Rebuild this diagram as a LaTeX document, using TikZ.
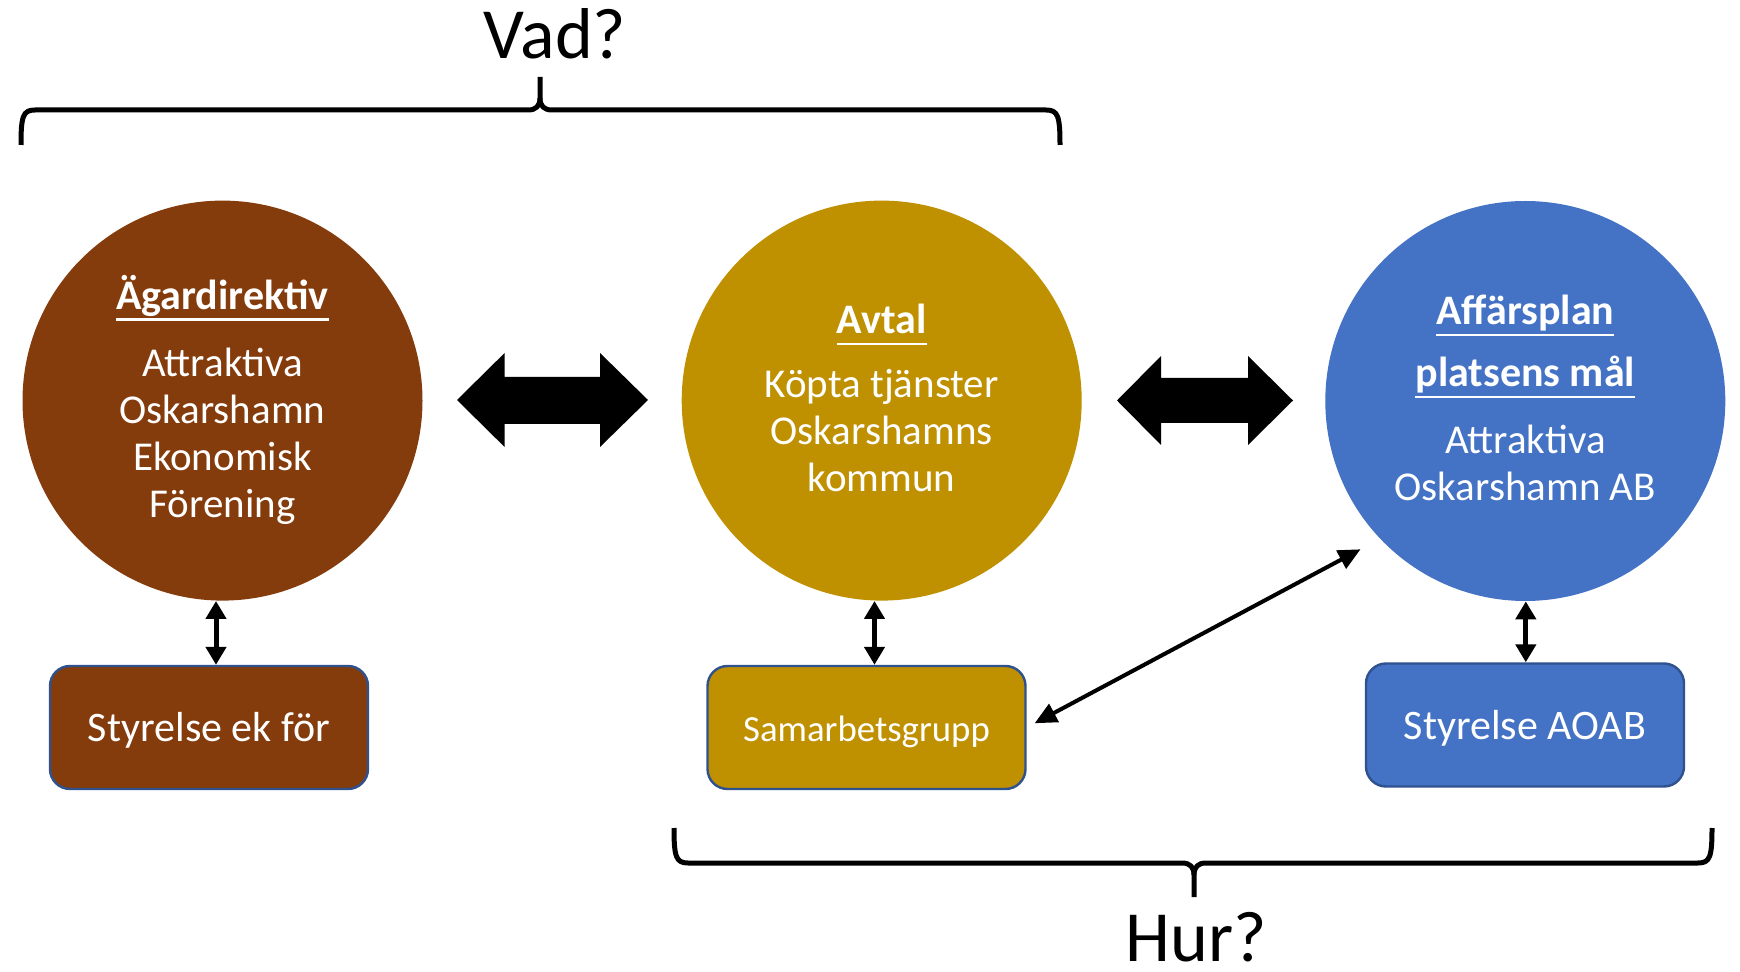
\documentclass[tikz,border=0pt]{standalone}
\usepackage{fontspec}
\setmainfont{Carlito}
\usetikzlibrary{arrows.meta}
\definecolor{cbrown}{HTML}{843C0C}
\definecolor{cgold}{HTML}{BF9000}
\definecolor{cblue}{HTML}{4472C4}
\definecolor{cedge}{HTML}{2F528F}
\newcommand\myul[1]{\setbox0\hbox{#1}\rlap{\rule[-5.6pt]{\wd0}{1.2pt}}\box0}
\newcommand\hd[1]{{\bfseries\fontsize{21}{24}\selectfont\myul{#1}}}
\newcommand\mydepth[1]{\rule[-#1]{0pt}{#1}}
\begin{document}
\begin{tikzpicture}[x=0.5pt,y=-0.5pt,
  circ/.style={circle, minimum size=200pt, inner sep=0pt, text=white, align=center, font=\fontsize{20.5}{23.5}\selectfont},
  boxn/.style={draw=cedge, line width=1.2pt, rounded corners=10pt, minimum width=159pt, minimum height=61.5pt, inner sep=0pt, text=white, text height=14pt, text depth=0pt},
  link/.style={line width=2.5pt, {Triangle[width=10pt,length=9pt]}-{Triangle[width=10pt,length=9pt]}},
  diag/.style={line width=2pt, {Triangle[width=10pt,length=11pt]}-{Triangle[width=10pt,length=11pt]}},
  bracel/.style={line width=2.5pt, line join=round},
  bigtext/.style={font=\fontsize{36}{40}\selectfont, anchor=base, inner sep=0pt}
]
\useasboundingbox (0,0) rectangle (1740,972);

% labels
\node[bigtext] (vad) at (555,59) {Vad?};
\node[bigtext] (hur) at (1196,961) {Hur?};

% braces
\draw[bracel] (21,145) .. controls (21,116) and (23,110) .. (35,110) -- (528,110) .. controls (536,110) and (540,106) .. (540,98) -- (540,77);
\draw[bracel] (1060,145) .. controls (1060,116) and (1058,110) .. (1046,110) -- (552,110) .. controls (544,110) and (540,106) .. (540,98);
\draw[bracel] (674,828) .. controls (674,857) and (676,863) .. (688,863) -- (1182,863) .. controls (1190,863) and (1194,867) .. (1194,875) -- (1194,897);
\draw[bracel] (1712,828) .. controls (1712,857) and (1710,863) .. (1698,863) -- (1206,863) .. controls (1198,863) and (1194,867) .. (1194,875);

% circles
\node[circ, fill=cbrown] (c1) at (222.5,400.6) {\hd{Ägardirektiv}\\[10pt]Attraktiva\\Oskarshamn\\Ekonomisk\\Förening\mydepth{4.2pt}};
\node[circ, fill=cgold] (c2) at (881.7,400.6) {\hd{Avtal}\\[8.5pt]Köpta tjänster\\Oskarshamns\\kommun\mydepth{2.5pt}};
\node[circ, fill=cblue] (c3) at (1525.3,401) {\hd{Affärsplan}\\[7.5pt]\hd{platsens mål}\\[10pt]Attraktiva\\Oskarshamn AB\mydepth{3pt}};

% boxes
\node[boxn, fill=cbrown, font=\fontsize{21}{25}\selectfont] (b1) at (209,727.5) {Styrelse ek för};
\node[boxn, fill=cgold, font=\fontsize{18.4}{22}\selectfont] (b2) at (866.5,727.5) {Samarbetsgrupp};
\node[boxn, fill=cblue, font=\fontsize{21}{25}\selectfont] (b3) at (1525,725) {Styrelse AOAB};

% big double arrows
\fill (457,400) -- (504.6,353) -- (504.6,377) -- (600,377) -- (600,353) -- (648,400) -- (600,447) -- (600,424) -- (504.6,424) -- (504.6,447) -- cycle;
\fill (1117,400.5) -- (1161,356) -- (1161,378) -- (1248,378) -- (1248,356) -- (1293,400.5) -- (1248,445) -- (1248,423) -- (1161,423) -- (1161,445) -- cycle;

% vertical links
\coordinate (v1) at (216,0);
\coordinate (v2) at (874.5,0);
\coordinate (v3) at (1525.8,0);
\draw[link] (c1.south -| v1) -- (b1.north -| v1);
\draw[link] (c2.south -| v2) -- (b2.north -| v2);
\draw[link] (c3.south -| v3) -- (b3.north -| v3);

% diagonal link
\coordinate (d2) at (1360.5,549.3);
\draw[diag, shorten <=4.5pt] (b2.east) -- (d2);
\end{tikzpicture}
\end{document}
